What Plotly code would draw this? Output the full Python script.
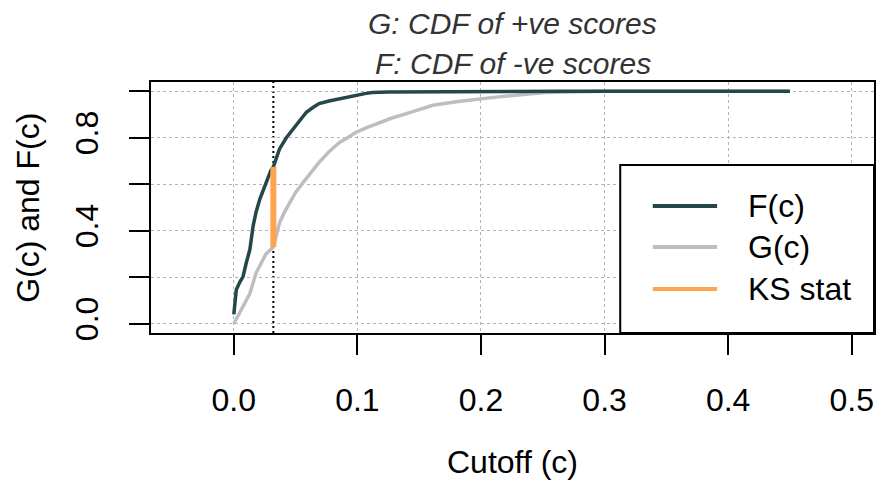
import plotly.graph_objects as go

# ---- data ----
f_x = [0.000, 0.001, 0.002, 0.005, 0.0075, 0.010, 0.013, 0.0156, 0.018, 0.021,
       0.026, 0.030, 0.032, 0.037, 0.0425, 0.047, 0.0506, 0.055, 0.0587, 0.064,
       0.069, 0.077, 0.0855, 0.092, 0.099, 0.106, 0.112, 0.125, 0.265, 0.45]
f_y = [0.04, 0.10, 0.146, 0.18, 0.203, 0.26, 0.319, 0.42, 0.48, 0.535,
       0.607, 0.66, 0.675, 0.752, 0.80, 0.83, 0.853, 0.885, 0.91, 0.93,
       0.947, 0.958, 0.968, 0.976, 0.983, 0.99, 0.995, 0.997, 1.0, 1.0]

g_x = [0.000, 0.002, 0.0048, 0.009, 0.013, 0.018, 0.022, 0.026, 0.032, 0.034,
       0.037, 0.041, 0.045, 0.050, 0.056, 0.062, 0.069, 0.077, 0.0855, 0.092,
       0.099, 0.108, 0.118, 0.128, 0.139, 0.150, 0.161, 0.180, 0.199, 0.214,
       0.228, 0.240, 0.252, 0.30, 0.45]
g_y = [0.0, 0.02, 0.045, 0.09, 0.13, 0.218, 0.26, 0.30, 0.33, 0.37,
       0.434, 0.48, 0.52, 0.565, 0.607, 0.65, 0.694, 0.74, 0.78, 0.80,
       0.824, 0.845, 0.867, 0.885, 0.903, 0.922, 0.94, 0.955, 0.968, 0.976,
       0.983, 0.99, 0.995, 1.0, 1.0]

ks_x = [0.032, 0.032]
ks_y = [0.33, 0.675]

x_ticks = [0.0, 0.1, 0.2, 0.3, 0.4, 0.5]
x_labels = ["0.0", "0.1", "0.2", "0.3", "0.4", "0.5"]
y_ticks = [0.0, 0.2, 0.4, 0.6, 0.8, 1.0]
y_labels = ["0.0", "", "0.4", "", "0.8", ""]

legend_names = ["F(c)", "G(c)", "KS stat"]

# ---- styles ----
F_COL = "#24474a"
G_COL = "#bebebe"
KS_COL = "#FFA54F"
FONT = "Liberation Sans, Arial, sans-serif"
GRID = "#b4b4b4"

fig = go.Figure()
fig.add_trace(go.Scatter(x=g_x, y=g_y, mode="lines", line=dict(color=G_COL, width=3.5),
                         name="G(c)", showlegend=False, hoverinfo="skip"))
fig.add_trace(go.Scatter(x=f_x, y=f_y, mode="lines", line=dict(color=F_COL, width=3.5),
                         name="F(c)", showlegend=False, hoverinfo="skip"))
fig.add_trace(go.Scatter(x=ks_x, y=ks_y, mode="lines", line=dict(color=KS_COL, width=6),
                         name="KS stat", showlegend=False, hoverinfo="skip"))

# vertical dotted line at KS cutoff (under the data lines)
fig.add_shape(type="line", xref="x", yref="y domain", x0=ks_x[0], x1=ks_x[0], y0=0, y1=1,
              line=dict(color="black", width=2, dash="2px,3px"), layer="below")

# legend box (manual, like R's legend)
fig.add_shape(type="rect", xref="paper", yref="paper", x0=0.649, x1=1.0, y0=0.0, y1=0.669,
              fillcolor="white", line=dict(color="black", width=2), layer="above")
leg_cols = [F_COL, G_COL, KS_COL]
leg_y = [0.506, 0.343, 0.175]
for name, col, yy in zip(legend_names, leg_cols, leg_y):
    fig.add_shape(type="line", xref="paper", yref="paper", x0=0.694, x1=0.783, y0=yy, y1=yy,
                  line=dict(color=col, width=4), layer="above")
    fig.add_annotation(text=name, xref="paper", yref="paper", x=0.823, y=yy, xanchor="left",
                       yanchor="middle", showarrow=False, font=dict(family=FONT, size=32, color="black"))

# titles
fig.add_annotation(text="<i>G: CDF of +ve scores</i>", xref="paper", yref="paper", x=0.5, y=1.235,
                   xanchor="center", yanchor="middle", showarrow=False,
                   font=dict(family=FONT, size=30, color="#333333"))
fig.add_annotation(text="<i>F: CDF of -ve scores</i>", xref="paper", yref="paper", x=0.5, y=1.072,
                   xanchor="center", yanchor="middle", showarrow=False,
                   font=dict(family=FONT, size=30, color="#333333"))
fig.add_annotation(text="Cutoff (c)", xref="paper", yref="paper", x=0.5, y=-0.514,
                   xanchor="center", yanchor="middle", showarrow=False,
                   font=dict(family=FONT, size=32, color="black"))
fig.add_annotation(text="G(c) and F(c)", xref="paper", yref="paper", x=-0.171, y=0.5,
                   xanchor="center", yanchor="middle", textangle=-90, showarrow=False,
                   font=dict(family=FONT, size=32, color="black"))

fig.update_layout(
    width=880, height=483,
    margin=dict(l=151, r=4, t=82, b=150),
    plot_bgcolor="white", paper_bgcolor="white",
    font=dict(family=FONT, size=32, color="black"),
    showlegend=False,
)
fig.update_xaxes(range=[-0.067, 0.518], tickvals=x_ticks, ticktext=x_labels,
                 showline=True, mirror=True, linecolor="black", linewidth=2,
                 ticks="outside", ticklen=20, tickwidth=2, tickcolor="black",
                 showgrid=True, gridcolor=GRID, gridwidth=1.2, griddash="3px,3px",
                 zeroline=False, ticklabelstandoff=18,
                 tickfont=dict(family=FONT, size=32, color="black"))
fig.update_yaxes(range=[-0.04, 1.04], tickvals=y_ticks, ticktext=y_labels,
                 showline=True, mirror=True, linecolor="black", linewidth=2,
                 ticks="outside", ticklen=20, tickwidth=2, tickcolor="black",
                 showgrid=True, gridcolor=GRID, gridwidth=1.2, griddash="3px,3px",
                 zeroline=False, tickangle=-90, ticklabelstandoff=18,
                 tickfont=dict(family=FONT, size=32, color="black"))

fig.write_html("out.html")
